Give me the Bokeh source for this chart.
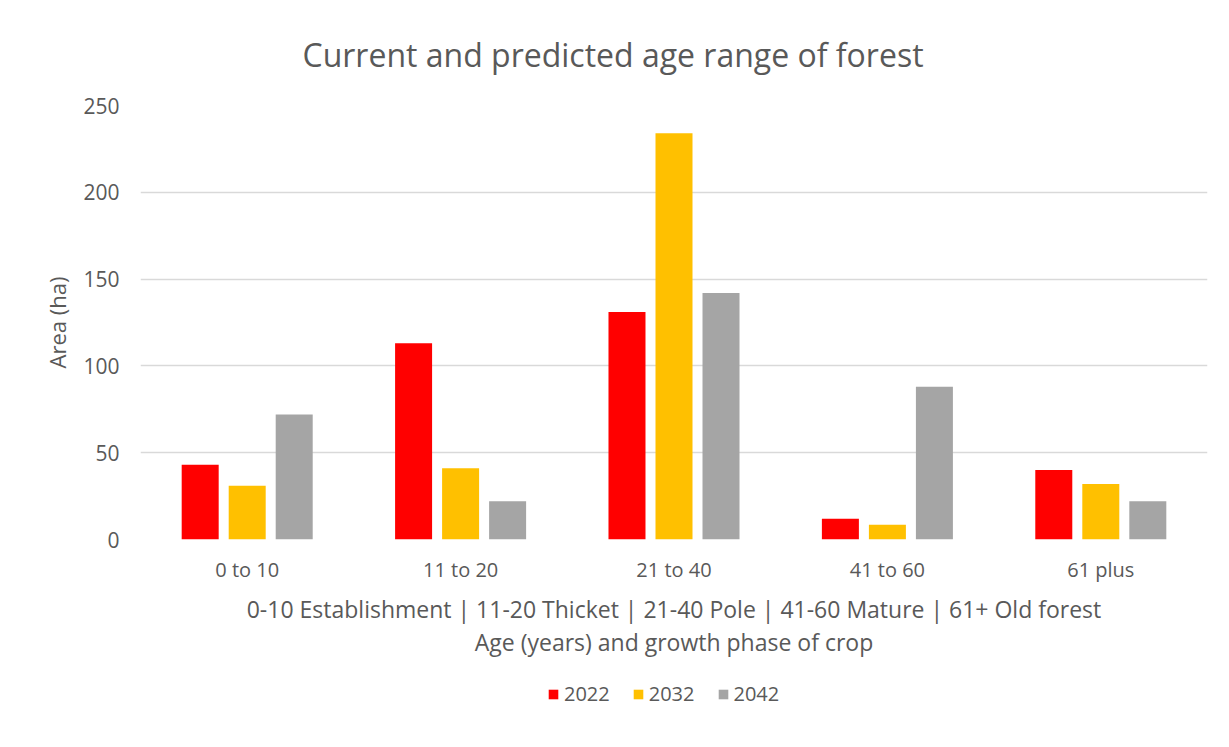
from bokeh.plotting import figure
from bokeh.layouts import column
from bokeh.models import (FactorRange, FixedTicker, Legend, LegendItem,
                          ColumnDataSource)
from bokeh.transform import dodge
from bokeh.embed import file_html
from bokeh.resources import INLINE

# ---- data ----
categories = ["0 to 10", "11 to 20", "21 to 40", "41 to 60", "61 plus"]
years = ["2022", "2032", "2042"]
area_2022 = [43, 113, 131, 12, 40]
area_2032 = [31, 41, 234, 8.5, 32]
area_2042 = [72, 22, 142, 88, 22]
y_ticks = [0, 50, 100, 150, 200, 250]

title_text = "Current and predicted age range of forest"
x_label_1 = "0-10 Establishment | 11-20 Thicket | 21-40 Pole | 41-60 Mature | 61+ Old forest"
x_label_2 = "Age (years) and growth phase of crop"
y_label = "Area (ha)"

colors = ["#FF0000", "#FFC000", "#A5A5A5"]
FONT = "Open Sans"
TXT = "#595959"

src = ColumnDataSource(dict(cat=categories, y2022=area_2022,
                            y2032=area_2032, y2042=area_2042))

p = figure(width=1225, height=669,
           x_range=FactorRange(*categories), y_range=(0, 250),
           output_backend="svg", toolbar_location=None,
           min_border_left=140, min_border_right=18, min_border_top=105,
           min_border_bottom=130)
p.outline_line_color = None
p.background_fill_color = "white"
p.border_fill_color = "white"

offsets = [-0.2203, 0.0, 0.2203]
cols = ["y2022", "y2032", "y2042"]
for col, off, c in zip(cols, offsets, colors):
    p.vbar(x=dodge("cat", off, range=p.x_range), top=col, width=0.1734,
           source=src, fill_color=c, line_color=None)

# title
p.title.text = title_text
p.title.text_font = FONT
p.title.text_font_size = "32px"
p.title.text_font_style = "normal"
p.title.text_color = TXT
p.title.align = "left"
p.title.offset = 162
p.title.standoff = 60

# axes
p.yaxis.ticker = FixedTicker(ticks=y_ticks)
p.yaxis.axis_line_color = None
p.yaxis.major_tick_line_color = None
p.yaxis.minor_tick_line_color = None
p.yaxis.major_label_text_font = FONT
p.yaxis.major_label_text_font_size = "21px"
p.yaxis.major_label_text_color = TXT
p.yaxis.major_label_standoff = 15
p.yaxis.axis_label = y_label
p.yaxis.axis_label_text_font = FONT
p.yaxis.axis_label_text_font_size = "22px"
p.yaxis.axis_label_text_font_style = "normal"
p.yaxis.axis_label_text_color = TXT
p.yaxis.axis_label_standoff = 8

p.xaxis.axis_line_color = None
p.xaxis.major_tick_line_color = None
p.xaxis.minor_tick_line_color = None
p.xaxis.major_label_text_font = FONT
p.xaxis.major_label_text_font_size = "20px"
p.xaxis.major_label_text_color = TXT
p.xaxis.major_label_standoff = 10
p.xaxis.axis_label = x_label_1 + "\n" + x_label_2
p.xaxis.axis_label_text_font = FONT
p.xaxis.axis_label_text_font_size = "23px"
p.xaxis.axis_label_text_font_style = "normal"
p.xaxis.axis_label_text_color = TXT
p.xaxis.axis_label_text_line_height = 1.05
p.xaxis.axis_label_standoff = 7

p.xgrid.grid_line_color = None
p.ygrid.grid_line_color = "#d9d9d9"
p.ygrid.grid_line_width = 1.5

# legend strip below the chart (zero-height swatch renderers feed the legend)
lg = figure(width=1225, height=75, x_range=(0, 1), y_range=(0, 1),
            output_backend="svg", toolbar_location=None,
            x_axis_location=None, y_axis_location=None, min_border=0)
lg.outline_line_color = None
lg.grid.visible = False
lg.background_fill_color = "white"
lg.border_fill_color = "white"
swatches = []
for c in colors:
    swatches.append(lg.vbar(x=[0.5], top=[0], bottom=0, width=0.01,
                            fill_color=c, line_color=None))

legend = Legend(items=[LegendItem(label=y, renderers=[r]) for y, r in zip(years, swatches)],
                orientation="horizontal", location=(407, 37),
                label_text_font=FONT, label_text_font_size="20px",
                label_text_color=TXT, glyph_width=12, glyph_height=12,
                label_height=25, label_standoff=5, spacing=22,
                border_line_color=None, background_fill_alpha=0,
                padding=0, margin=0)
lg.add_layout(legend, "center")

layout = column(p, lg, spacing=0)
open("out.html", "w").write(file_html(layout, INLINE))
